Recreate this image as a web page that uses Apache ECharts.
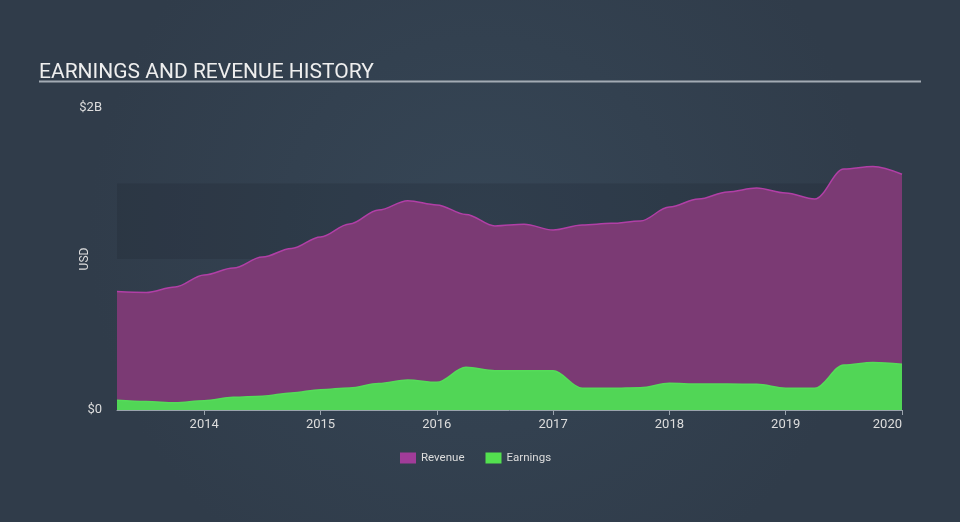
<!DOCTYPE html>
<html>
<head>
<meta charset="utf-8">
<script src="https://cdn.jsdelivr.net/npm/echarts@6/dist/echarts.min.js"></script>
<style>
html,body{margin:0;padding:0;background:#333f4e;}
#c{width:960px;height:522px;}
</style>
</head>
<body>
<div id="c"></div>
<script>
// Quarter-end dates as decimal years
const quarters = [2013.25, 2013.5, 2013.75, 2014.0, 2014.25, 2014.5, 2014.75, 2015.0,
  2015.25, 2015.5, 2015.75, 2016.0, 2016.25, 2016.5, 2016.75, 2017.0,
  2017.25, 2017.5, 2017.75, 2018.0, 2018.25, 2018.5, 2018.75, 2019.0,
  2019.25, 2019.5, 2019.75, 2020.0];
// Values in USD millions
const revenue = [784, 778, 815, 894, 940, 1013, 1070, 1146,
  1232, 1325, 1386, 1358, 1295, 1219, 1230, 1192,
  1225, 1236, 1252, 1344, 1397, 1444, 1470, 1437,
  1397, 1596, 1613, 1561];
const earnings = [64, 56, 48, 62, 84, 91, 113, 134,
  146, 175, 199, 183, 283, 260, 260, 260,
  144, 144, 148, 177, 172, 172, 170, 144,
  144, 298, 315, 303];
const yearTicks = [2014, 2015, 2016, 2017, 2018, 2019, 2020];
const yTickLabels = {0: '$0', 2000: '$2B'};

const chart = echarts.init(document.getElementById('c'));
const pair = (arr) => quarters.map((q, i) => [q, arr[i]]);

chart.setOption({
  backgroundColor: {
    type: 'radial', x: 0.5, y: 0.45, r: 0.75,
    colorStops: [{offset: 0, color: '#364656'}, {offset: 1, color: '#303c4a'}]
  },
  animation: false,
  title: {
    text: 'EARNINGS AND REVENUE HISTORY',
    left: 34, top: 57,
    textStyle: {color: '#eeeeee', fontFamily: 'Roboto', fontWeight: 'normal', fontSize: 21}
  },
  graphic: [{
    type: 'line', shape: {x1: 39, y1: 81.5, x2: 921, y2: 81.5},
    style: {stroke: '#a3abb4', lineWidth: 2}
  }],
  legend: {
    left: 395, top: 447,
    itemWidth: 16, itemHeight: 11, itemGap: 21,
    icon: 'rect',
    textStyle: {color: '#dddddd', fontFamily: 'Roboto', fontSize: 11.5},
    data: ['Revenue', 'Earnings']
  },
  grid: {left: 117, right: 58, top: 108, bottom: 112},
  xAxis: {
    type: 'value', min: 2013.25, max: 2020,
    axisLine: {show: true, lineStyle: {color: '#9aa3ad', width: 1}},
    axisTick: {show: true, length: 5, lineStyle: {color: '#9aa3ad'}, customValues: yearTicks},
    axisLabel: {
      color: '#dddddd', fontFamily: 'Roboto', fontSize: 13, margin: 8,
      customValues: yearTicks, alignMaxLabel: 'right',
      formatter: (v) => String(Math.round(v))
    },
    splitLine: {show: false}
  },
  yAxis: {
    type: 'value', min: 0, max: 2000,
    name: 'USD', nameLocation: 'middle', nameGap: 26, nameRotate: 90,
    nameMoveOverlap: false,
    nameTextStyle: {color: '#dddddd', fontFamily: 'Roboto', fontSize: 12},
    axisLine: {show: false}, axisTick: {show: false}, splitLine: {show: false},
    axisLabel: {
      color: '#dddddd', fontFamily: 'Roboto', fontSize: 13, margin: 15,
      customValues: [0, 2000],
      formatter: (v) => yTickLabels[v] || ''
    }
  },
  series: [
    {
      type: 'line', data: [], z: 1, silent: true,
      markArea: {
        silent: true,
        itemStyle: {color: 'rgba(20,30,40,0.18)'},
        data: [[{yAxis: 1000, xAxis: 2013.25}, {yAxis: 1500, xAxis: 2020}]]
      }
    },
    {
      name: 'Revenue', type: 'line', z: 2, data: pair(revenue),
      smooth: 0.35, smoothMonotone: 'x', showSymbol: false,
      itemStyle: {color: '#a13c99'},
      lineStyle: {color: '#b13fa6', width: 1.5},
      areaStyle: {color: '#7b3a74', opacity: 1}
    },
    {
      name: 'Earnings', type: 'line', z: 3, data: pair(earnings),
      smooth: 0.35, smoothMonotone: 'x', showSymbol: false,
      itemStyle: {color: '#53e04f'},
      lineStyle: {color: '#55dc59', width: 1.5},
      areaStyle: {color: '#51d656', opacity: 1}
    }
  ]
});
</script>
</body>
</html>
